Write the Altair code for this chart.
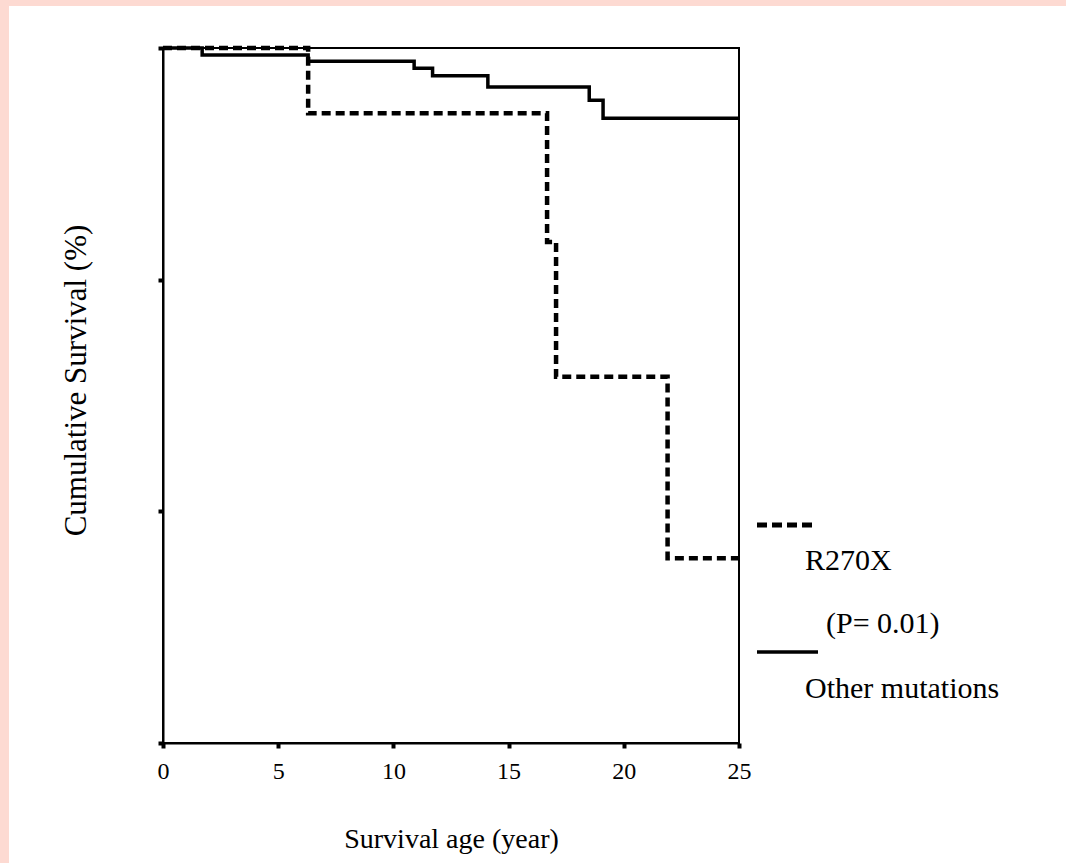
import altair as alt
import pandas as pd

# Kaplan-Meier step data
years_r270x = [0, 6.3, 16.67, 17.06, 21.9, 25]
surv_r270x = [100, 90.6, 72.1, 52.7, 26.6, 26.6]

years_other = [0, 1.7, 6.3, 10.9, 11.7, 14.1, 18.5, 19.1, 25]
surv_other = [100, 99.0, 98.1, 97.1, 96.0, 94.4, 92.5, 89.9, 89.9]

x_ticks = [0, 5, 10, 15, 20, 25]
y_ticks = [0, 100 / 3, 200 / 3, 100]

legend_labels = ["R270X", "(P= 0.01)", "Other mutations"]

df_r = pd.DataFrame({"year": years_r270x, "surv": surv_r270x})
df_o = pd.DataFrame({"year": years_other, "surv": surv_other})
one = alt.Data(values=[{"a": 1}])

FONT = "Liberation Serif"
W, H = 576, 695

x_enc = alt.X(
    "year:Q",
    scale=alt.Scale(domain=[0, 25], nice=False, zero=False),
    axis=alt.Axis(
        values=x_ticks,
        title="Survival age (year)",
        titleY=104,
        titleBaseline="alphabetic",
        titleFontSize=28,
        titleFontWeight="normal",
        labelFontSize=24,
        labelPadding=11,
        labelFlush=False,
        grid=False,
    ),
)
y_enc = alt.Y(
    "surv:Q",
    scale=alt.Scale(domain=[0, 100], nice=False),
    axis=alt.Axis(
        values=y_ticks,
        labels=False,
        title="Cumulative Survival (%)",
        titleX=-78,
        titleY=332,
        titleAngle=-90,
        titleBaseline="alphabetic",
        titleFontSize=31,
        titleFontWeight="normal",
        grid=False,
    ),
)

other_line = alt.Chart(df_o).mark_line(
    interpolate="step-after", color="black", strokeWidth=3.5
).encode(x=x_enc, y=y_enc)

r270_line = alt.Chart(df_r).mark_line(
    interpolate="step-after", color="black", strokeWidth=4.5, strokeDash=[9, 5]
).encode(x="year:Q", y="surv:Q")

# pink frame bands of the figure
band_left = alt.Chart(one).mark_rect(color="#FDDAD2").encode(
    x=alt.value(-163), x2=alt.value(-154), y=alt.value(-48), y2=alt.value(815)
)
band_top = alt.Chart(one).mark_rect(color="#FDDAD2").encode(
    x=alt.value(-163), x2=alt.value(903), y=alt.value(-48), y2=alt.value(-42)
)

# custom legend
leg_dash = alt.Chart(one).mark_rule(color="black", strokeWidth=5, strokeDash=[10, 5]).encode(
    x=alt.value(594), x2=alt.value(650), y=alt.value(477)
)
leg_solid = alt.Chart(one).mark_rule(color="black", strokeWidth=3.5).encode(
    x=alt.value(594), x2=alt.value(655), y=alt.value(604)
)
leg_text = alt.Chart(
    pd.DataFrame({"label": legend_labels, "px": [642, 663, 642], "py": [522, 585, 650]})
).mark_text(align="left", baseline="alphabetic", font=FONT, fontSize=30, color="black").encode(
    x=alt.X("px:Q", scale=None), y=alt.Y("py:Q", scale=None), text="label:N"
)

chart = (
    alt.layer(band_left, band_top, other_line, r270_line, leg_dash, leg_solid, leg_text)
    .properties(
        width=W,
        height=H,
        autosize=alt.AutoSizeParams(type="none"),
        padding={"left": 163, "top": 48, "right": 327, "bottom": 120},
        background="white",
    )
    .configure_view(stroke="black", strokeWidth=2)
    .configure_axis(
        labelFont=FONT,
        titleFont=FONT,
        labelColor="black",
        titleColor="black",
        domainColor="black",
        domainWidth=2,
        tickColor="black",
        tickSize=5,
        tickWidth=4,
    )
)

chart.save("out.html", embed_options={"renderer": "svg", "actions": False})
